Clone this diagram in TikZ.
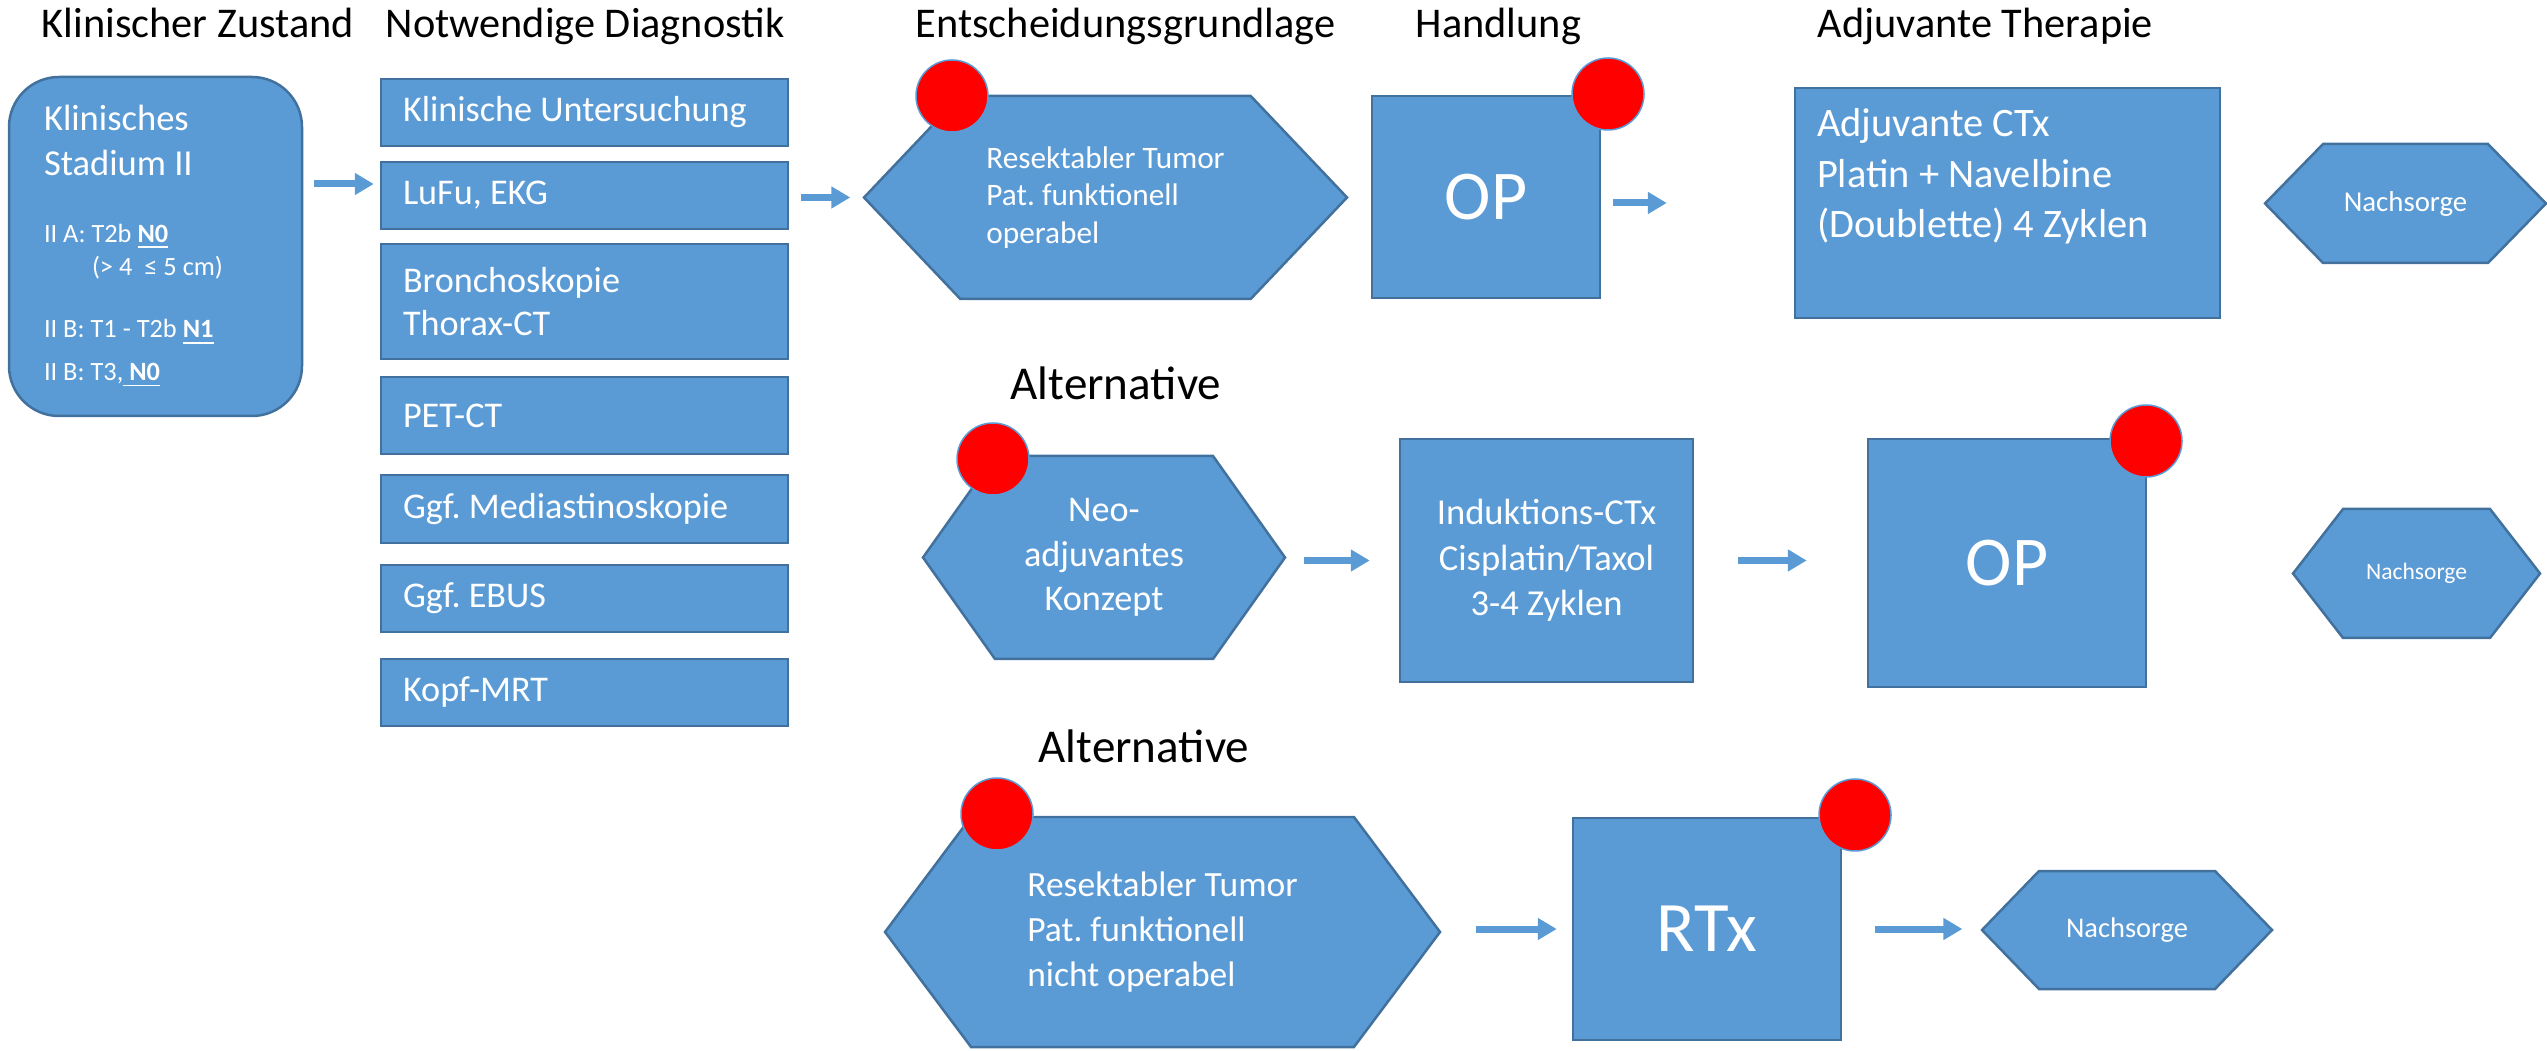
\documentclass[tikz,border=0pt]{standalone}
\usepackage{fontspec}
\setmainfont{Carlito}
\usepackage{tikz}
\usetikzlibrary{shapes,arrows.meta}
\definecolor{boxblue}{HTML}{5B9BD5}
\definecolor{edgeblue}{HTML}{41719C}
\definecolor{dotred}{HTML}{FF0000}
\frenchspacing

\begin{document}
\begin{tikzpicture}[x=0.1mm, y=-0.1mm]
      \tikzstyle{head} = [anchor=base west, inner sep=0pt, font=\fontsize{12.05}{14}\selectfont]
      \tikzstyle{alttitle} = [anchor=base west, inner sep=0pt, font=\fontsize{13.4}{16}\selectfont]
      \tikzstyle{box} = [rectangle, draw=edgeblue, fill=boxblue, line width=0.25mm, text=white, inner sep=0pt]
      \tikzstyle{diag} = [box, minimum width=40.7mm, text width=36.3mm, inner xsep=2.2mm, align=flush left, font=\fontsize{10.3}{12.2}\selectfont]
      \tikzstyle{hexa} = [signal, signal to=west and east, draw=edgeblue, fill=boxblue, line width=0.25mm, text=white, inner sep=0pt]
      \tikzstyle{dot} = [circle, draw=boxblue, fill=dotred, line width=0.15mm, minimum size=7.2mm, inner sep=0pt]
      \tikzstyle{flow} = [line width=0.7mm, draw=boxblue, -{Triangle[width=2.1mm, length=1.9mm]}]
      \useasboundingbox (0,0) rectangle (2547,1051);
      % column headings
      \node (t1) [head] at (41,38) {Klinischer Zustand};
      \node (t2) [head] at (385,38) {Notwendige Diagnostik};
      \node (t3) [head] at (915,38) {Entscheidungsgrundlage};
      \node (t4) [head] at (1415,38) {Handlung};
      \node (t5) [head] at (1817,38) {Adjuvante Therapie};
      % clinical state
      \node (stage) [box, rounded corners=5mm, minimum width=29.3mm, minimum height=33.9mm, text width=22.3mm, inner xsep=3.5mm, align=flush left] at (155.5,246.5) {%
        \fontsize{10.4}{12.8}\selectfont Klinisches\par
        Stadium II\par
        \fontsize{7.5}{18.8}\selectfont II A: T2b \underline{\textbf{N0}}\par
        \fontsize{7.5}{9.4}\selectfont \hspace*{4.8mm}(> 4\ \ ≤ 5 cm)\par
        \fontsize{7.5}{17.9}\selectfont II B: T1 - T2b \underline{\textbf{N1}}\par
        \fontsize{7.5}{9.1}\selectfont II B: T3,\underline{ \textbf{N0}}};
      % diagnostics
      \node (d1) [diag, minimum height=6.7mm] at (584.5,112.5) {Klinische Untersuchung};
      \node (d2) [diag, minimum height=6.7mm] at (584.5,195.5) {LuFu, EKG};
      \node (d3) [diag, minimum height=11.5mm] at (584.5,301.5) {Bronchoskopie\\Thorax-CT};
      \node (d4) [diag, minimum height=7.7mm] at (584.5,415.5) {PET-CT};
      \node (d5) [diag, minimum height=6.8mm] at (584.5,509) {Ggf. Mediastinoskopie};
      \node (d6) [diag, minimum height=6.7mm] at (584.5,598.5) {Ggf. EBUS};
      \node (d7) [diag, minimum height=6.7mm] at (584.5,692.5) {Kopf-MRT};
      % first row
      \node (resek) [hexa, signal pointer angle=93, minimum width=48.3mm, minimum height=20.3mm, align=left, font=\fontsize{8.9}{10.7}\selectfont] at (1105.5,197.5) {Resektabler Tumor\\Pat. funktionell\\operabel};
      \node (op) [box, minimum width=22.8mm, minimum height=20.2mm, font=\fontsize{19.9}{24}\selectfont] at (1486,197) {OP};
      \node (adj) [box, inner xsep=2.2mm, font=\fontsize{11.5}{14.5}\selectfont] at (2007.5,203) {\parbox[c][23mm][t]{38.1mm}{\vspace*{2mm}Adjuvante CTx\\Platin + Navelbine\\(Doublette) 4 Zyklen}};
      \node (nach1) [hexa, signal pointer angle=91.4, minimum width=28.1mm, minimum height=11.9mm, font=\fontsize{8.2}{10}\selectfont] at (2405.5,203.5) {Nachsorge};
      % second row
      \node (alt1) [alttitle] at (1010,400) {Alternative};
      \node (neo) [hexa, signal pointer angle=109.3, minimum width=36.2mm, minimum height=20.3mm, align=center, font=\fontsize{10.3}{12.7}\selectfont] at (1104,557.5) {Neo-\\adjuvantes\\Konzept};
      \node (ind) [box, minimum width=29.3mm, minimum height=24.3mm, align=center, font=\fontsize{10.4}{12.9}\selectfont] at (1546.5,560.5) {Induktions-CTx\\Cisplatin/Taxol\\3-4 Zyklen};
      \node (op2) [box, minimum width=27.8mm, minimum height=24.8mm, font=\fontsize{19.9}{24}\selectfont] at (2007,563) {OP};
      \node (nach2) [hexa, signal pointer angle=104.4, minimum width=24.7mm, minimum height=12.9mm, font=\fontsize{6.7}{8}\selectfont] at (2416.5,573.5) {Nachsorge};
      % third row
      \node (alt2) [alttitle] at (1038,763) {Alternative};
      \node (nonop) [hexa, signal pointer angle=106.4, minimum width=55.5mm, minimum height=23mm, align=left, font=\fontsize{10.1}{12.8}\selectfont] at (1162.5,932) {Resektabler Tumor\\Pat. funktionell\\nicht operabel};
      \node (rtx) [box, minimum width=26.8mm, minimum height=22.2mm, font=\fontsize{20.2}{24}\selectfont] at (1707,929) {RTx};
      \node (nach3) [hexa, signal pointer angle=92, minimum width=29mm, minimum height=11.8mm, font=\fontsize{8.1}{10}\selectfont] at (2127,930) {Nachsorge};
      % red markers
      \node (dot1) [dot] at (952,96) {};
      \node (dot2) [dot] at (1608,94) {};
      \node (dot3) [dot] at (993,459) {};
      \node (dot4) [dot] at (2146,441) {};
      \node (dot5) [dot] at (997,814) {};
      \node (dot6) [dot] at (1855,815) {};
      % arrows
      \coordinate (a1) at ([yshift=1.15mm]d2.west);
      \draw [flow, shorten <=1.1mm, shorten >=0.6mm] (stage.east |- a1) -- (a1);
      \draw [flow, shorten <=1.2mm, shorten >=1.2mm] (d2.east |- resek.west) -- (resek.west);
      \draw [flow, shorten <=1.2mm, shorten >=12.7mm] (op.east |- adj.west) -- (adj.west);
      \draw [flow, shorten <=1.7mm, shorten >=2.9mm] (neo.east |- ind.west) -- (ind.west);
      \draw [flow, shorten <=4.4mm, shorten >=6mm] (ind.east) -- (op2.west |- ind.east);
      \draw [flow, shorten <=3.4mm, shorten >=1.5mm] (nonop.east |- rtx.west) -- (rtx.west);
      \draw [flow, shorten <=3.3mm, shorten >=1.8mm] (rtx.east) -- (nach3.west |- rtx.east);
    \end{tikzpicture}
\end{document}
